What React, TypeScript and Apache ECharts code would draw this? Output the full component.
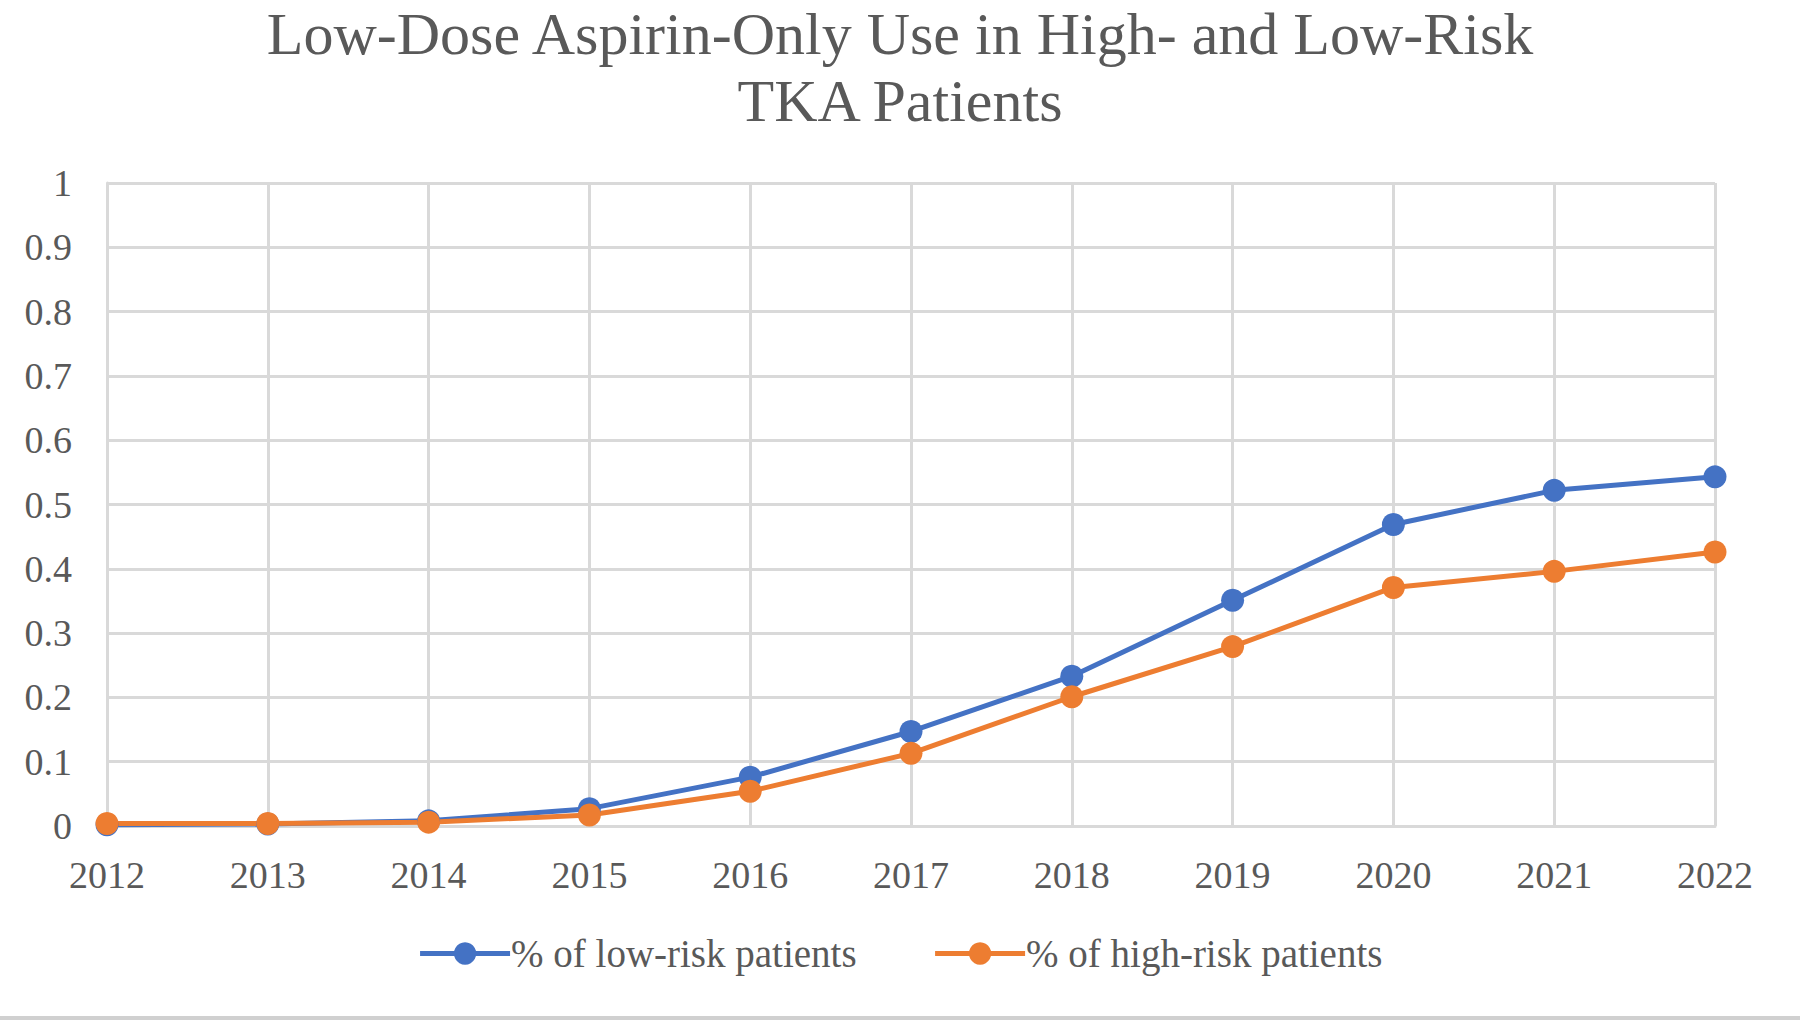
import React, { useEffect, useRef } from "react";
import * as echarts from "echarts";

const years = ["2012", "2013", "2014", "2015", "2016", "2017", "2018", "2019", "2020", "2021", "2022"];
const lowRisk = [0.002, 0.003, 0.008, 0.027, 0.076, 0.147, 0.233, 0.351, 0.469, 0.522, 0.543];
const highRisk = [0.004, 0.004, 0.006, 0.017, 0.054, 0.113, 0.201, 0.279, 0.371, 0.396, 0.426];
const yTicks = [0, 0.1, 0.2, 0.3, 0.4, 0.5, 0.6, 0.7, 0.8, 0.9, 1];
const titleText = "Low-Dose Aspirin-Only Use in High- and Low-Risk\nTKA Patients";

const FONT = "Liberation Serif";
const TXT = "#595959";
const GRID = "#D9D9D9";

export default function App() {
  const ref = useRef<HTMLDivElement>(null);
  useEffect(() => {
    document.body.style.margin = "0";
    const chart = echarts.init(ref.current!, null, { renderer: "svg" });
    chart.setOption({
      animation: false,
      backgroundColor: "#ffffff",
      title: {
        text: titleText,
        left: "center",
        top: 0,
        padding: 0,
        textStyle: { fontFamily: FONT, fontSize: 60, fontWeight: "normal", color: TXT, lineHeight: 67 },
      },
      grid: { left: 107, right: 85, top: 183, bottom: 194 },
      legend: {
        bottom: 42,
        left: "center",
        itemWidth: 90,
        itemHeight: 28,
        itemGap: 76,
        lineStyle: { width: 5 },
        textStyle: { fontFamily: FONT, fontSize: 39, color: TXT, padding: [0, 0, 0, -4] },
        data: ["% of low-risk patients", "% of high-risk patients"],
      },
      xAxis: {
        type: "category",
        data: years,
        boundaryGap: false,
        axisLine: { lineStyle: { color: GRID, width: 3 } },
        axisTick: { show: false },
        axisLabel: { fontFamily: FONT, fontSize: 38, color: TXT, margin: 30 },
        splitLine: { show: true, lineStyle: { color: GRID, width: 3 } },
      },
      yAxis: {
        type: "value",
        min: 0,
        max: 1,
        interval: 0.1,
        axisLine: { show: true, lineStyle: { color: GRID, width: 3 } },
        axisTick: { show: false },
        axisLabel: {
          fontFamily: FONT,
          fontSize: 38,
          color: TXT,
          margin: 35,
          formatter: (v: number) => {
            const t = yTicks.find((x) => Math.abs(x - v) < 1e-6);
            return t === undefined ? "" : String(t);
          },
        },
        splitLine: { show: true, lineStyle: { color: GRID, width: 3 } },
      },
      series: [
        {
          name: "% of low-risk patients",
          type: "line",
          data: lowRisk,
          symbol: "circle",
          symbolSize: 23,
          color: "#4472C4",
          lineStyle: { width: 5, color: "#4472C4" },
          itemStyle: { color: "#4472C4" },
        },
        {
          name: "% of high-risk patients",
          type: "line",
          data: highRisk,
          symbol: "circle",
          symbolSize: 23,
          color: "#ED7D31",
          lineStyle: { width: 5, color: "#ED7D31" },
          itemStyle: { color: "#ED7D31" },
        },
      ],
      graphic: [
        { type: "rect", shape: { x: 0, y: 1016, width: 1800, height: 4 }, style: { fill: "#D0D0D0" } },
      ],
    });
    return () => chart.dispose();
  }, []);
  return <div ref={ref} style={{ width: 1800, height: 1020 }} />;
}
